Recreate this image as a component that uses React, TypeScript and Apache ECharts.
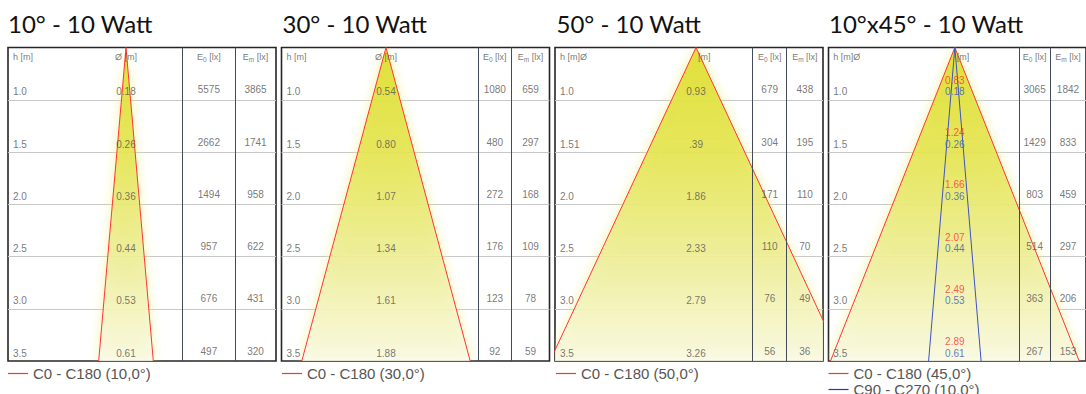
import React, { useEffect, useRef } from "react";
import * as echarts from "echarts";

// ---------- data ----------
const titles = ["10° - 10 Watt", "30° - 10 Watt", "50° - 10 Watt", "10°x45° - 10 Watt"];
const heights = [1.0, 1.5, 2.0, 2.5, 3.0, 3.5];
const rowLabelsStd = ["1.0", "1.5", "2.0", "2.5", "3.0", "3.5"];
const rowLabels50 = ["1.0", "1.51", "2.0", "2.5", "3.0", "3.5"];

const dia10 = ["0.18", "0.26", "0.36", "0.44", "0.53", "0.61"];
const e0_10 = ["5575", "2662", "1494", "957", "676", "497"];
const em_10 = ["3865", "1741", "958", "622", "431", "320"];

const dia30 = ["0.54", "0.80", "1.07", "1.34", "1.61", "1.88"];
const e0_30 = ["1080", "480", "272", "176", "123", "92"];
const em_30 = ["659", "297", "168", "109", "78", "59"];

const dia50 = ["0.93", ".39", "1.86", "2.33", "2.79", "3.26"];
const e0_50 = ["679", "304", "171", "110", "76", "56"];
const em_50 = ["438", "195", "110", "70", "49", "36"];

const dia1045_c0 = ["0.83", "1.24", "1.66", "2.07", "2.49", "2.89"];
const dia1045_c90 = ["0.18", "0.26", "0.36", "0.44", "0.53", "0.61"];
const e0_1045 = ["3065", "1429", "803", "514", "363", "267"];
const em_1045 = ["1842", "833", "459", "297", "206", "153"];

const coneNames = [
  ["C0 - C180 (10,0°)"],
  ["C0 - C180 (30,0°)"],
  ["C0 - C180 (50,0°)"],
  ["C0 - C180 (45,0°)", "C90 - C270 (10,0°)"],
];
const headerH = ["h [m]", "h [m]", "h [m]Ø", "h [m]Ø"];
const headerD = ["Ø [m]", "Ø [m]", "[m]", "[m]"];

const panelData = [
  { rows: rowLabelsStd, cones: [dia10], e0: e0_10, em: em_10 },
  { rows: rowLabelsStd, cones: [dia30], e0: e0_30, em: em_30 },
  { rows: rowLabels50, cones: [dia50], e0: e0_50, em: em_50 },
  { rows: rowLabelsStd, cones: [dia1045_c0, dia1045_c90], e0: e0_1045, em: em_1045 },
];

// ---------- layout / style ----------
const BOX_W = 268;
const BOX_TOP = 47.5;
const BOX_H = 313.5;
const H_MAX = 3.5;
const PX_PER_M = BOX_H / H_MAX;
const layout = [
  { left: 8, apex: 118, div: [174.7, 227], titleLeft: 8, legendLeft: 8 },
  { left: 281.5, apex: 104.5, div: [196.5, 230], titleLeft: 282.5, legendLeft: 282 },
  { left: 555, apex: 141, div: [197.7, 231.7], titleLeft: 556.5, legendLeft: 556 },
  { left: 828.5, apex: 131.5, div: [198.5, 230.5], titleLeft: 829, legendLeft: 828.5 },
];
const coneColors = ["#ff3535", "#3d52c4"];
const legendColors = ["#ff3030", "#2233dd"];
const coneTextColors = ["#ff3030", "#3b57b4"];
const coneTextOffsets = [[-8], [-19.5, -8]];
const FONT = "'Liberation Sans', Arial, sans-serif";
const TEXT_GRAY = "#555";
const LEGEND_TOP = 366;
const LEGEND_STEP = 16;

function buildOption() {
  const grid: any[] = [];
  const xAxis: any[] = [];
  const yAxis: any[] = [];
  const series: any[] = [];
  const legend: any[] = [];
  const title: any[] = [];

  panelData.forEach((pd, i) => {
    const L = layout[i];
    grid.push({
      left: L.left,
      top: BOX_TOP,
      width: BOX_W,
      height: BOX_H,
      show: true,
      borderColor: "#262626",
      borderWidth: 1.6,
      backgroundColor: "transparent",
    });
    const xc = 2 * i;
    const xt = 2 * i + 1;
    const ycone = 2 * i;
    const ytab = 2 * i + 1;
    xAxis.push({ type: "value", gridIndex: i, min: -L.apex / PX_PER_M, max: (BOX_W - L.apex) / PX_PER_M, show: false });
    xAxis.push({ type: "value", gridIndex: i, min: 0, max: BOX_W, show: false });
    yAxis.push({ type: "value", gridIndex: i, min: 0, max: H_MAX, inverse: true, show: false });
    yAxis.push({
      type: "value",
      gridIndex: i,
      min: 0.5,
      max: 3.5,
      interval: 0.5,
      inverse: true,
      axisLine: { show: false },
      axisTick: { show: false },
      axisLabel: { show: false },
      splitLine: { show: true, showMinLine: false, showMaxLine: false, lineStyle: { color: "#c8c8c8", width: 1 } },
    });

    const last = heights.length - 1;
    const outerR = parseFloat(pd.cones[0][last]) / 2;

    // yellow light cone
    series.push({
      type: "custom",
      xAxisIndex: xc,
      yAxisIndex: ycone,
      clip: true,
      silent: true,
      z: 1,
      data: [[outerR, heights[last]]],
      renderItem: (_p: any, api: any) => {
        const r = api.value(0);
        const h = api.value(1);
        const a = api.coord([0, 0]);
        const l = api.coord([-r, h]);
        const rr = api.coord([r, h]);
        return {
          type: "polygon",
          shape: { points: [a, l, rr] },
          style: {
            fill: new echarts.graphic.LinearGradient(0, 0, 0, 1, [
              { offset: 0, color: "rgba(222,222,40,0.92)" },
              { offset: 0.35, color: "rgba(228,228,80,0.85)" },
              { offset: 0.7, color: "rgba(238,238,160,0.8)" },
              { offset: 1, color: "rgba(250,250,235,0.8)" },
            ]),
            shadowBlur: 12,
            shadowColor: "rgba(238,238,130,0.85)",
          },
        };
      },
    });

    // cone edges
    pd.cones.forEach((dia, k) => {
      const r = parseFloat(dia[last]) / 2;
      series.push({
        type: "line",
        name: coneNames[i][k],
        xAxisIndex: xc,
        yAxisIndex: ycone,
        clip: true,
        silent: true,
        z: 3,
        symbol: "none",
        showSymbol: false,
        color: coneColors[k],
        lineStyle: { color: coneColors[k], width: 1 },
        itemStyle: { color: coneColors[k] },
        data: [
          [-r, heights[last]],
          [0, 0],
          [r, heights[last]],
        ],
      });
      legend.push({
        left: L.legendLeft,
        top: LEGEND_TOP + k * LEGEND_STEP,
        orient: "horizontal",
        padding: 0,
        itemWidth: 20,
        itemHeight: 1.2,
        icon: "rect",
        selectedMode: false,
        data: [{ name: coneNames[i][k], itemStyle: { color: legendColors[k], borderWidth: 0 } }],
        textStyle: { fontSize: 15, color: TEXT_GRAY, fontFamily: FONT },
      });
    });

    const textSeries = (xIdx: number, data: any[], extra: any, more: any = {}) => ({
      type: "scatter",
      xAxisIndex: xIdx,
      yAxisIndex: ytab,
      symbolSize: 1,
      silent: true,
      z: 5,
      itemStyle: { color: "rgba(0,0,0,0)" },
      label: {
        show: true,
        position: "inside",
        color: TEXT_GRAY,
        fontSize: 10,
        fontFamily: FONT,
        formatter: (p: any) => p.data[2],
        ...extra,
      },
      data,
      ...more,
    });

    const eCenter = (L.div[0] + L.div[1]) / 2;
    const mCenter = (L.div[1] + BOX_W) / 2;

    // headers
    series.push(textSeries(xt, [[5, 0.5, headerH[i]]], { align: "left", offset: [0, 9.5], fontSize: 9 }));
    if (i < 2) {
      series.push(textSeries(xc, [[0, 0.5, headerD[i]]], { align: "center", offset: [0, 9.5], fontSize: 9 }));
    } else {
      series.push(textSeries(xc, [[0, 0.5, headerD[i]]], { align: "left", offset: [2, 9.5], fontSize: 9 }));
    }
    const subRich = {
      b: { fontSize: 9, color: TEXT_GRAY, fontFamily: FONT, lineHeight: 12 },
      s: { fontSize: 6.5, color: TEXT_GRAY, fontFamily: FONT, lineHeight: 7, verticalAlign: "bottom" },
    };
    series.push(
      textSeries(xt, [[eCenter, 0.5, "{b|E}{s|0}{b| [lx]}"]], { align: "center", offset: [0, 9.5], rich: subRich })
    );
    series.push(
      textSeries(xt, [[mCenter, 0.5, "{b|E}{s|m}{b| [lx]}"]], { align: "center", offset: [0, 9.5], rich: subRich })
    );

    // row labels
    series.push(textSeries(xt, heights.map((h, r) => [5, h, pd.rows[r]]), { align: "left", offset: [0, -8] }));
    // diameters
    pd.cones.forEach((dia, k) => {
      series.push(
        textSeries(xc, heights.map((h, r) => [0, h, dia[r]]), {
          align: "center",
          offset: [0, coneTextOffsets[pd.cones.length - 1][k]],
          color: pd.cones.length > 1 ? coneTextColors[k] : TEXT_GRAY,
        })
      );
    });
    // E0 + dividers
    series.push(
      textSeries(
        xt,
        heights.map((h, r) => [eCenter, h, pd.e0[r]]),
        { align: "center", offset: [0, -10] },
        {
          markLine: {
            silent: true,
            symbol: ["none", "none"],
            label: { show: false },
            lineStyle: { color: "#444a58", width: 1, type: "solid" },
            data: L.div.map((v) => ({ xAxis: v })),
          },
        }
      )
    );
    // Em
    series.push(textSeries(xt, heights.map((h, r) => [mCenter, h, pd.em[r]]), { align: "center", offset: [0, -10] }));

    title.push({
      text: titles[i],
      left: L.titleLeft,
      top: 11,
      padding: 0,
      textStyle: { fontFamily: "Lato", fontSize: 24, fontWeight: "normal", color: "#111" },
    });
  });

  return { animation: false, backgroundColor: "#fff", title, legend, grid, xAxis, yAxis, series };
}

export default function App() {
  const ref = useRef<HTMLDivElement>(null);
  useEffect(() => {
    if (!ref.current) return;
    const chart = echarts.init(ref.current, undefined, { renderer: "svg" });
    chart.setOption(buildOption() as any);
    return () => chart.dispose();
  }, []);
  return <div ref={ref} style={{ position: "absolute", left: 0, top: 0, width: 1086, height: 394 }} />;
}
